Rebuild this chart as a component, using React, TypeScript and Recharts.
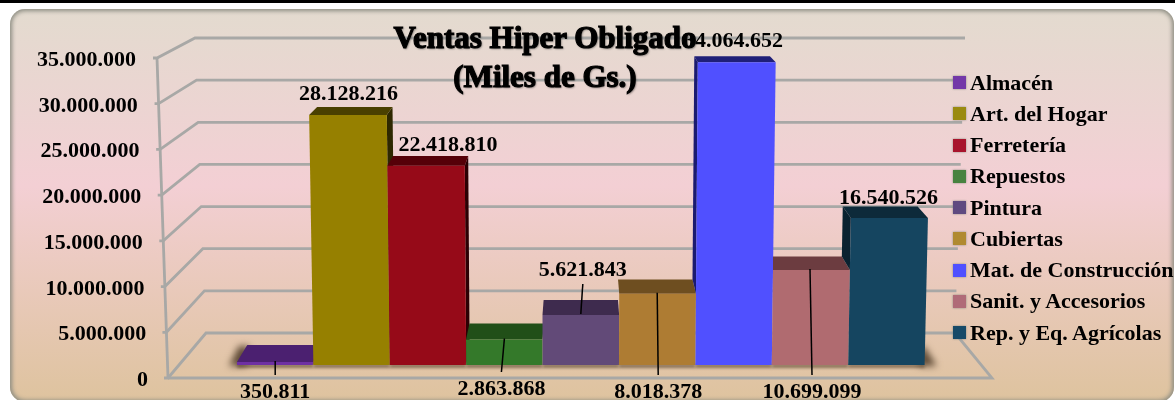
import { BarChart, Bar, XAxis, YAxis, CartesianGrid, Legend, LabelList } from "recharts";

const categories = [
  "Almacén",
  "Art. del Hogar",
  "Ferretería",
  "Repuestos",
  "Pintura",
  "Cubiertas",
  "Mat. de Construcción",
  "Sanit. y Accesorios",
  "Rep. y Eq. Agrícolas",
];
const values = [350811, 28128216, 22418810, 2863868, 5621843, 8018378, 34064652, 10699099, 16540526];
const yTicks = [0, 5000000, 10000000, 15000000, 20000000, 25000000, 30000000, 35000000];

const frontColors = ["#6f30a3", "#968000", "#960a18", "#34792a", "#624a78", "#ae7c33", "#5050ff", "#b06b70", "#154560"];
const topColors = ["#4b2070", "#4a4000", "#550008", "#214f18", "#3e2b4e", "#6e4e20", "#1f1f78", "#6c3c40", "#0d2a3a"];
const sideColors = ["#2e1445", "#2e2800", "#2c0004", "#12300e", "#2a1c36", "#4a3412", "#1a1a70", "#4a2a2c", "#0a2230"];
const legendColors = ["#7338a8", "#9a8a10", "#a8142c", "#47823f", "#5f4a80", "#b08a30", "#5050ff", "#b06b78", "#174a68"];

// where each value label sits, relative to its bar
const labelDx = [0, -3, 20, -3, 2, 1, 0, 2, 2];
const labelBelow = [true, false, false, true, false, true, false, true, false];
const labelGap = [33, 15, 15, 30, 39, 33, 15, 33, 14];

const W = 1175;
const H = 400;
const PLOT_TOP = 54;
const PLOT_BOTTOM = 365;
const PLOT_LEFT = 168;
const PLOT_RIGHT = 994;
const SERIF = "'Liberation Serif', serif";

const table = [Object.fromEntries([["name", ""], ...categories.map((c, i) => [c, values[i]])])];

const fmt = (v: number) => String(v).replace(/\B(?=(\d{3})+(?!\d))/g, ".");
const frac = (y: number) => (PLOT_BOTTOM - y) / (PLOT_BOTTOM - PLOT_TOP);
const pts = (p: number[][]) => p.map((q) => q.join(",")).join(" ");

// the picture has a perspective look: bars fan out slightly and their tops recede
const fan = (x: number, y: number) => x + (x - 575) * (PLOT_BOTTOM - y) * 6.5e-5;
const depthY = (y: number) => 6 + (y - 60) * 0.0357;
const depthX = (x: number) => (580 - x) * 0.03;

function bar3d(i: number) {
  return function Shape(props: any) {
    const { x, y, width, height } = props;
    const right = x + width;
    const dy = depthY(y);
    const dyBase = depthY(PLOT_BOTTOM);
    const hiddenLeft = i > 0 && values[i - 1] > values[i];
    const back = (px: number) => {
      const q = fan(px, y) + depthX(px);
      return hiddenLeft ? Math.max(q, fan(x, y)) : q;
    };
    const top = [
      [fan(x, y), y],
      [fan(right, y), y],
      [back(right), y - dy],
      [back(x), y - dy],
    ];
    const front = [
      [x, PLOT_BOTTOM],
      [right, PLOT_BOTTOM],
      [fan(right, y), y],
      [fan(x, y), y],
    ];
    const showRight = depthX(right) > 1.5;
    const showLeft = depthX(x) < -1.5 && !hiddenLeft;
    // a left side face only shows above the shorter neighbour
    const prevTop = i > 0 ? PLOT_BOTTOM - height * (values[i - 1] / values[i]) : PLOT_BOTTOM;
    return (
      <g>
        <rect x={x} y={PLOT_BOTTOM - 1} width={width} height={4} fill="#8a7258" style={{ filter: "blur(1.5px)" }} />
        {i === 0 && (
          <polygon
            points={pts([[x + 12, PLOT_BOTTOM - 19], [x + 2, PLOT_BOTTOM - 19], [x - 8, PLOT_BOTTOM + 1], [x + 10, PLOT_BOTTOM + 1]])}
            fill="#5e4a36"
            style={{ filter: "blur(3.5px)" }}
          />
        )}
        {i === categories.length - 1 && (
          <polygon
            points={pts([[right - 6, PLOT_BOTTOM - 18], [right, PLOT_BOTTOM - 18], [right + 12, PLOT_BOTTOM + 1], [right - 6, PLOT_BOTTOM + 1]])}
            fill="#5e4a36"
            style={{ filter: "blur(3.5px)" }}
          />
        )}
        {showRight && (
          <polygon
            points={pts([[fan(right, y), y], [back(right), y - dy], [right + depthX(right), PLOT_BOTTOM - dyBase], [right, PLOT_BOTTOM]])}
            fill={sideColors[i]}
          />
        )}
        {showLeft && (
          <polygon
            points={pts([
              [fan(x, y), y],
              [back(x), y - dy],
              [fan(x, prevTop) + depthX(x), prevTop - depthY(prevTop)],
              [fan(x, prevTop), prevTop],
            ])}
            fill={sideColors[i]}
          />
        )}
        <polygon points={pts(top)} fill={topColors[i]} />
        <polygon points={pts(front)} fill={frontColors[i]} />
      </g>
    );
  };
}

function valueLabel(i: number) {
  return function Label(props: any) {
    const { x, y, width, value } = props;
    const cx = x + width / 2;
    const below = labelBelow[i];
    const baseline = below ? PLOT_BOTTOM + labelGap[i] : y - labelGap[i];
    return (
      <g>
        {below && (
          <line x1={cx} y1={y - 1} x2={cx + labelDx[i]} y2={baseline - 23} stroke="#000" strokeWidth={1.5} />
        )}
        {i === 4 && <line x1={cx + 2} y1={y - 31} x2={cx} y2={y - 1} stroke="#000" strokeWidth={1.5} />}
        <text x={cx + labelDx[i]} y={baseline} textAnchor="middle" fontFamily={SERIF} fontWeight="bold" fontSize={22} fill="#000">
          {fmt(Number(value))}
        </text>
      </g>
    );
  };
}

function wallLine(props: any) {
  const t = frac(props.y1);
  const fx = PLOT_LEFT - t * 11;
  const fy = 378 - t * 320;
  const bx = 206 - t * 11;
  const by = 333 - t * 295;
  const ex = 955 + t * 10;
  return (
    <g key={`wall-${t}`} fill="none" stroke="#a8a8a6" strokeWidth={2.8}>
      <polyline points={pts([[fx - 4, fy], [fx, fy], [bx, by], [ex, by]])} />
      {t === 0 && (
        <>
          <polyline points={pts([[PLOT_LEFT, 378], [992, 378], [ex, by]])} />
          <line x1={157} y1={58} x2={PLOT_LEFT} y2={378} />
        </>
      )}
    </g>
  );
}

function yTick(props: any) {
  const { y, payload } = props;
  const t = frac(y);
  return (
    <text
      x={148 - t * 12}
      y={386 - t * 320}
      textAnchor="end"
      fontFamily={SERIF}
      fontWeight="bold"
      fontSize={22}
      fill="#000"
    >
      {fmt(payload.value)}
    </text>
  );
}

function LegendBox({ payload }: any) {
  return (
    <div style={{ fontFamily: SERIF, fontWeight: "bold", fontSize: 22, color: "#000" }}>
      {(payload ?? []).map((item: any) => (
        <div key={item.value} style={{ height: 31.25, display: "flex", alignItems: "center", whiteSpace: "nowrap" }}>
          <span
            style={{
              width: 13,
              height: 13,
              marginRight: 4,
              background: legendColors[categories.indexOf(item.value)],
              boxShadow: "0 0 2px #8a8a80",
            }}
          />
          {item.value}
        </div>
      ))}
    </div>
  );
}

export default function App() {
  return (
    <div style={{ position: "absolute", left: 0, top: 0, width: W, height: H, background: "#fff", overflow: "hidden" }}>
      <div style={{ position: "absolute", left: 0, top: 0, width: W, height: 3, background: "#000" }} />
      <div
        style={{
          position: "absolute",
          left: 10,
          top: 9,
          width: 1164,
          height: 393,
          borderRadius: 15,
          background: "linear-gradient(180deg, #e3dbcf 0%, #f3cfd4 45%, #dec39e 100%)",
          boxShadow: "inset 0 0 4px 2px #8c8c82",
        }}
      />
      <div style={{ position: "absolute", left: 0, top: 0, filter: "blur(0.4px)" }}>
        <BarChart
          width={W}
          height={H}
          data={table}
          margin={{ top: PLOT_TOP, bottom: H - PLOT_BOTTOM, left: 0, right: W - PLOT_RIGHT }}
          barSize={76.4}
          barGap={0}
        >
          <CartesianGrid horizontal={wallLine} vertical={false} />
          <XAxis dataKey="name" hide />
          <YAxis
            width={PLOT_LEFT}
            domain={[0, 35000000]}
            ticks={yTicks}
            interval={0}
            axisLine={false}
            tickLine={false}
            tick={yTick}
          />
          <Legend
            layout="vertical"
            align="center"
            verticalAlign="middle"
            itemSorter={null}
            content={<LegendBox />}
            wrapperStyle={{ left: 953, top: 67, width: 222, height: 290, transform: "none" }}
          />
          {categories.map((c, i) => (
            <Bar key={c} dataKey={c} name={c} fill={frontColors[i]} shape={bar3d(i)} isAnimationActive={false}>
              <LabelList dataKey={c} content={valueLabel(i)} />
            </Bar>
          ))}
        </BarChart>
      </div>
      <div
        style={{
          position: "absolute",
          left: 345,
          top: 18,
          width: 400,
          textAlign: "center",
          fontFamily: SERIF,
          fontWeight: "bold",
          fontSize: 31,
          lineHeight: "39px",
          color: "#000",
          WebkitTextStroke: "1.2px #000",
          textShadow: "1px 1px 2px rgba(0,0,0,0.5)",
          filter: "blur(0.4px)",
        }}
      >
        Ventas Hiper Obligado
        <br />
        (Miles de Gs.)
      </div>
    </div>
  );
}
